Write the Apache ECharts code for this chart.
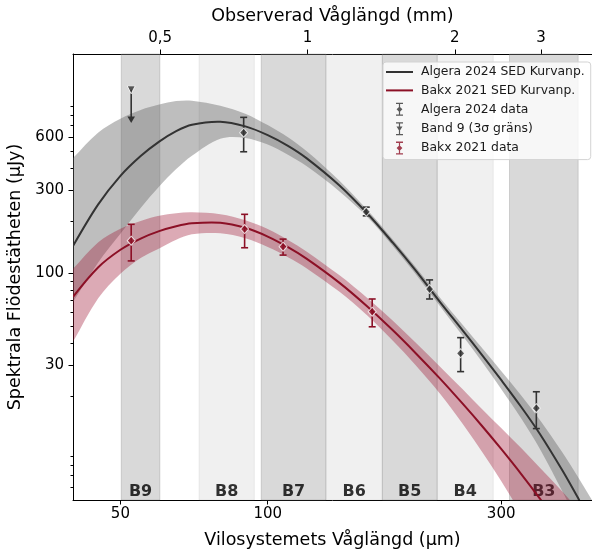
<!DOCTYPE html>
<html>
<head>
<meta charset="utf-8">
<script src="https://cdn.jsdelivr.net/npm/echarts@6/dist/echarts.min.js"></script>
<style>
  html, body { margin: 0; padding: 0; background: #fff; }
  #chart { width: 592px; height: 552px; }
</style>
</head>
<body>
<div id="chart"></div>
<script>
// vilosystemets våglängd (µm) där kurvorna är avlästa
const restWave = [40, 45, 50, 55, 60, 65, 70, 80, 90, 100, 110, 120, 140, 160, 180, 200, 225, 250, 275, 300, 330, 360, 400, 430, 460];

// Algera 2024 SED-anpassning (µJy) med osäkerhetsband
const algeraFit  = [143.5, 247.4, 361.5, 469.2, 566.9, 650.8, 708.1, 736.6, 692.5, 617.4, 536.4, 456.4, 319.4, 219.3, 150.4, 105.1, 68.7, 47.5, 33.85, 24.64, 17.21, 12.11, 7.51, 5.26, 3.70];
const algeraHigh = [456.8, 638.0, 765.3, 859.4, 922.4, 965.7, 971.0, 909.2, 818.5, 704.2, 599.9, 500.4, 339.8, 229.6, 156.9, 110.1, 72.6, 51.1, 37.1, 27.74, 20.02, 14.56, 9.52, 6.93, 5.07];
const algeraLow  = [68.7, 115.3, 168.5, 236.7, 313.6, 394.8, 470.9, 589.0, 595.2, 544.9, 476.5, 410.8, 295.2, 209.4, 144.2, 100.4, 65.0, 44.2, 30.87, 21.89, 14.79, 9.94, 5.70, 3.79, 2.56];

// Bakx 2021 SED-anpassning (µJy) med osäkerhetsband
const bakxFit  = [73.6, 108.3, 136.7, 158.4, 174.6, 186.2, 193.5, 195.0, 182.4, 162.6, 141.4, 121.6, 88.7, 64.6, 47.5, 35.4, 25.07, 18.09, 13.32, 9.94, 7.12, 5.17, 3.45, 2.59, 1.97];
const bakxHigh = [106.4, 150.5, 180.2, 199.4, 213.5, 220.9, 223.6, 218.1, 201.3, 179.5, 155.5, 133.7, 97.9, 72.2, 53.8, 40.6, 29.36, 21.89, 16.66, 13.10, 10.02, 7.77, 5.69, 4.50, 3.61];
const bakxLow  = [40.7, 72.0, 99.7, 122.6, 139.1, 155.9, 167.4, 169.8, 158.9, 141.6, 124.0, 107.3, 78.8, 57.4, 41.4, 30.2, 20.58, 13.90, 9.46, 6.52, 4.21, 2.79, 1.65, 1.15, 0.81];

// mätpunkter
const algeraWave  = [89.3, 159, 214.2, 247.9, 354];
const algeraFlux  = [637, 225, 81.5, 35.0, 17.0];
const algeraErrLo = [496, 213.5, 71.5, 27.5, 13.0];
const algeraErrHi = [780, 239.4, 91.9, 43.0, 21.1];

const bakxWave  = [52.6, 89.7, 107.5, 163.5];
const bakxFlux  = [154, 179.5, 142.2, 60.5];
const bakxErrLo = [118, 140.3, 127.4, 49.6];
const bakxErrHi = [191, 217.8, 157.2, 71.5];

// band 9, 3σ övre gräns
const band9Wave = [52.6];
const band9Limit = [1120];
const band9Arrow = [725];

// ALMA-band i vilosystemet (µm)
const bandNames = ['B9', 'B8', 'B7', 'B6', 'B5', 'B4', 'B3'];
const bandLo = [50.2, 72.4, 97.0, 131.5, 171.5, 222, 312];
const bandHi = [60.2, 93.9, 131.5, 171.5, 222, 289, 431];

// axlar
const xTicks = [50, 100, 300];
const topTicks = [0.5, 1, 2, 3];
const yTicks = [30, 100, 300, 600];
const yMinorTicks = [6, 7, 8, 9, 20, 40, 50, 60, 70, 80, 90, 200, 400, 500, 700, 800, 900];

const X_MIN = 40, X_MAX = 460;
const Y_MIN = 5.08, Y_MAX = 1795;
const ONE_PLUS_Z = 8.293;

const FONT = 'DejaVu Sans';
const DARK = '#333333';
const RED = '#8c1026';
const SMOOTH = 0.33;

const lineIcon = 'path://M0,0 L27,0 L27,2 L0,2 Z';
const errIcon = 'path://M0,0 L7,0 L7,1.3 L0,1.3 Z M0,11.7 L7,11.7 L7,13 L0,13 Z M2.9,0 L4.1,0 L4.1,13 L2.9,13 Z M3.5,3.6 L6.4,6.5 L3.5,9.4 L0.6,6.5 Z';
const limIcon = 'path://M0,0 L7,0 L7,1.3 L0,1.3 Z M0,11.7 L7,11.7 L7,13 L0,13 Z M2.9,0 L4.1,0 L4.1,13 L2.9,13 Z M0.5,4.2 L6.5,4.2 L3.5,9 Z';

const pairs = (xs, ys) => xs.map((x, i) => [x, ys[i]]);
const bandRows = (lo, hi) => restWave.map((w, i) => [w, lo[i], hi[i]]);

// utjämnad kurva genom alla punkter i serien
function curveShape(color) {
    return function (params, api) {
        if (params.dataIndex !== 0) return null;
        const n = params.dataInsideLength || restWave.length;
        const pts = [];
        for (let i = 0; i < n; i++) {
            pts.push(api.coord([api.value(0, i), api.value(1, i)]));
        }
        return {
            type: 'polyline',
            shape: { points: pts, smooth: SMOOTH },
            style: { stroke: color, lineWidth: 2, fill: 'none' },
        };
    };
}

// osäkerhetsband som en utjämnad polygon
function bandShape(color) {
    return function (params, api) {
        if (params.dataIndex !== 0) return null;
        const n = params.dataInsideLength || restWave.length;
        const up = [], lo = [];
        for (let i = 0; i < n; i++) {
            const x = api.value(0, i);
            up.push(api.coord([x, api.value(2, i)]));
            lo.push(api.coord([x, api.value(1, i)]));
        }
        lo.reverse();
        const pts = [up[0]].concat(up, [up[n - 1]], [lo[0]], lo, [lo[n - 1]]);
        return {
            type: 'polygon',
            shape: { points: pts, smooth: SMOOTH },
            style: { fill: color },
        };
    };
}

function errorBars(color) {
    return function (params, api) {
        const x = api.value(0);
        const lo = api.coord([x, api.value(1)]);
        const hi = api.coord([x, api.value(2)]);
        const w = 3.5;
        const st = { stroke: color, lineWidth: 1.6 };
        return {
            type: 'group',
            children: [
                { type: 'line', shape: { x1: lo[0], y1: lo[1], x2: hi[0], y2: hi[1] }, style: st },
                { type: 'line', shape: { x1: lo[0] - w, y1: lo[1], x2: lo[0] + w, y2: lo[1] }, style: st },
                { type: 'line', shape: { x1: hi[0] - w, y1: hi[1], x2: hi[0] + w, y2: hi[1] }, style: st },
            ],
        };
    };
}

function limitArrow(params, api) {
    const x = api.value(0);
    const top = api.coord([x, api.value(1)]);
    const tip = api.coord([x, api.value(2)]);
    return {
        type: 'group',
        children: [
            { type: 'line', shape: { x1: top[0], y1: top[1], x2: tip[0], y2: tip[1] - 4 }, style: { stroke: DARK, lineWidth: 1.6 } },
            { type: 'polygon', shape: { points: [[tip[0] - 3.8, tip[1] - 6.5], [tip[0] + 3.8, tip[1] - 6.5], [tip[0], tip[1]]] }, style: { fill: DARK } },
        ],
    };
}

const myChart = echarts.init(document.getElementById('chart'));

const option = {
    animation: false,
    textStyle: { fontFamily: FONT },
    grid: { left: 73, right: 0, top: 54, bottom: 52, containLabel: false, outerBoundsMode: 'none' },
    legend: {
        orient: 'vertical',
        left: 383,
        top: 62,
        itemWidth: 27,
        itemHeight: 13,
        itemGap: 6.4,
        padding: [4, 6, 5, 3],
        backgroundColor: 'rgba(255,255,255,0.8)',
        borderColor: '#d3d3d3',
        borderWidth: 1,
        borderRadius: 3,
        selectedMode: false,
        symbolKeepAspect: true,
        textStyle: { fontFamily: FONT, fontSize: 12.4, color: '#1a1a1a', padding: [0, 0, 0, 3] },
        data: [
            { name: 'Algera 2024 SED Kurvanp.', icon: lineIcon },
            { name: 'Bakx 2021 SED Kurvanp.', icon: lineIcon },
            { name: 'Algera 2024 data', icon: errIcon, itemStyle: { borderWidth: 0 } },
            { name: 'Band 9 (3σ gräns)', icon: limIcon, itemStyle: { borderWidth: 0 } },
            { name: 'Bakx 2021 data', icon: errIcon, itemStyle: { borderWidth: 0 } },
        ],
    },
    xAxis: [
        {
            type: 'log',
            position: 'bottom',
            min: X_MIN,
            max: X_MAX,
            axisLine: { onZero: false, lineStyle: { color: '#000', width: 1 } },
            axisTick: { customValues: xTicks, length: 4.5, lineStyle: { color: '#000' } },
            axisLabel: { customValues: xTicks, fontSize: 15, color: '#000', margin: 7, fontFamily: FONT },
            splitLine: { show: false },
            name: 'Vilosystemets Våglängd (μm)',
            nameLocation: 'middle',
            nameGap: 31,
            nameTextStyle: { fontSize: 17.5, color: '#000', fontFamily: FONT },
        },
        {
            type: 'log',
            position: 'top',
            min: X_MIN * ONE_PLUS_Z / 1000,
            max: X_MAX * ONE_PLUS_Z / 1000,
            axisLine: { onZero: false, lineStyle: { color: '#000', width: 1 } },
            axisTick: { customValues: topTicks, length: 4.5, lineStyle: { color: '#000' } },
            axisLabel: {
                customValues: topTicks,
                fontSize: 15,
                color: '#000',
                margin: 8.5,
                fontFamily: FONT,
                formatter: (v) => String(v).replace('.', ','),
            },
            splitLine: { show: false },
            name: 'Observerad Våglängd (mm)',
            nameLocation: 'middle',
            nameGap: 23,
            nameTextStyle: { fontSize: 17.5, color: '#000', fontFamily: FONT },
        },
    ],
    yAxis: [
        {
            type: 'log',
            position: 'left',
            min: Y_MIN,
            max: Y_MAX,
            axisLine: { show: true, onZero: false, lineStyle: { color: '#000', width: 1 } },
            axisTick: { show: true, customValues: yTicks, length: 4.5, lineStyle: { color: '#000' } },
            axisLabel: { customValues: yTicks, fontSize: 15, color: '#000', margin: 9, fontFamily: FONT },
            splitLine: { show: false },
            name: 'Spektrala Flödestätheten (μJy)',
            nameLocation: 'middle',
            nameRotate: 90,
            nameGap: 41,
            nameTextStyle: { fontSize: 17.5, color: '#000', fontFamily: FONT },
        },
        {
            type: 'log',
            position: 'left',
            min: Y_MIN,
            max: Y_MAX,
            axisLine: { show: false },
            axisTick: { show: true, customValues: yMinorTicks, length: 2.5, lineStyle: { color: '#000' } },
            axisLabel: { show: false },
            splitLine: { show: false },
        },
    ],
    series: [
        // ALMA-banden
        {
            type: 'line',
            data: [[X_MIN, 100]],
            symbol: 'none',
            lineStyle: { opacity: 0 },
            silent: true,
            z: 1,
            markArea: {
                silent: true,
                z: 1,
                data: bandNames.map((n, i) => {
                    const c = i % 2 === 0 ? 'rgba(128,128,128,0.3)' : 'rgba(128,128,128,0.12)';
                    return [
                        { xAxis: bandLo[i], itemStyle: { color: c, borderColor: c, borderWidth: 1 } },
                        { xAxis: bandHi[i] },
                    ];
                }),
            },
        },
        // bandetiketter
        {
            type: 'scatter',
            data: bandNames.map((n, i) => ({ name: n, value: [Math.sqrt(bandLo[i] * bandHi[i]), Y_MIN] })),
            symbolSize: 0,
            clip: false,
            silent: true,
            z: 2,
            label: {
                show: true,
                position: 'top',
                distance: 0,
                formatter: '{b}',
                fontSize: 16,
                fontWeight: 'bold',
                color: '#000',
                fontFamily: FONT,
            },
        },
        // osäkerhetsband
        {
            type: 'custom', data: bandRows(algeraLow, algeraHigh), encode: { x: 0, y: [1, 2] },
            renderItem: bandShape('rgba(100,100,100,0.42)'), clip: true, silent: true, z: 3,
        },
        {
            type: 'custom', data: bandRows(bakxLow, bakxHigh), encode: { x: 0, y: [1, 2] },
            renderItem: bandShape('rgba(160,25,55,0.37)'), clip: true, silent: true, z: 3,
        },
        // anpassade kurvor
        {
            name: 'Algera 2024 SED Kurvanp.',
            type: 'custom', data: pairs(restWave, algeraFit), encode: { x: 0, y: 1 },
            renderItem: curveShape(DARK), itemStyle: { color: DARK }, clip: true, silent: true, z: 4,
        },
        {
            name: 'Bakx 2021 SED Kurvanp.',
            type: 'custom', data: pairs(restWave, bakxFit), encode: { x: 0, y: 1 },
            renderItem: curveShape(RED), itemStyle: { color: RED }, clip: true, silent: true, z: 4,
        },
        // felstaplar
        {
            type: 'custom', data: algeraWave.map((w, i) => [w, algeraErrLo[i], algeraErrHi[i]]),
            encode: { x: 0, y: [1, 2] }, renderItem: errorBars(DARK), silent: true, z: 5,
        },
        {
            type: 'custom', data: bakxWave.map((w, i) => [w, bakxErrLo[i], bakxErrHi[i]]),
            encode: { x: 0, y: [1, 2] }, renderItem: errorBars(RED), silent: true, z: 5,
        },
        {
            type: 'custom', data: band9Wave.map((w, i) => [w, band9Limit[i], band9Arrow[i]]),
            encode: { x: 0, y: [1, 2] }, renderItem: limitArrow, silent: true, z: 5,
        },
        // datapunkter
        {
            name: 'Algera 2024 data',
            type: 'scatter', data: pairs(algeraWave, algeraFlux), symbol: 'diamond', symbolSize: [8, 9],
            itemStyle: { color: DARK, borderColor: '#fff', borderWidth: 1 }, z: 6,
        },
        {
            name: 'Band 9 (3σ gräns)',
            type: 'scatter', data: pairs(band9Wave, band9Limit), symbol: 'triangle', symbolRotate: 180, symbolSize: 8,
            itemStyle: { color: DARK, borderColor: '#fff', borderWidth: 1 }, z: 6,
        },
        {
            name: 'Bakx 2021 data',
            type: 'scatter', data: pairs(bakxWave, bakxFlux), symbol: 'diamond', symbolSize: [8, 9],
            itemStyle: { color: RED, borderColor: '#fff', borderWidth: 1 }, z: 6,
        },
    ],
};

myChart.setOption(option);
window.addEventListener('resize', () => {
    myChart.resize();
});
</script>
</body>
</html>
